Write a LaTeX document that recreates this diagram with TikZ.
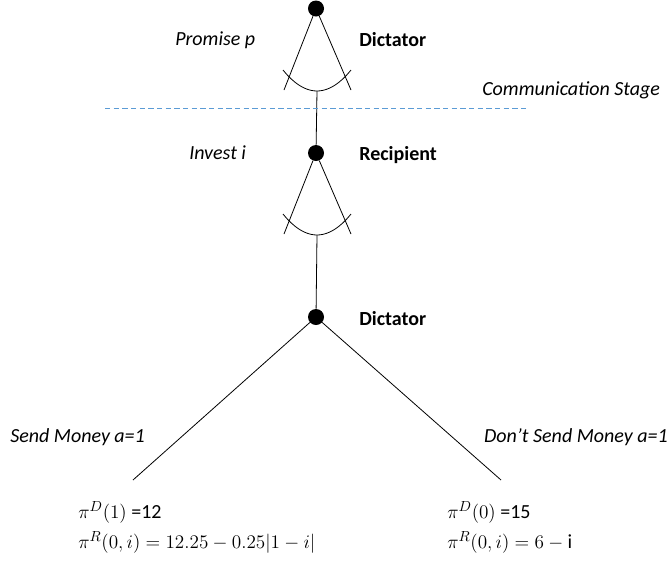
\documentclass[tikz,border=0pt]{standalone}
\usepackage{amsmath, amssymb}
\usepackage{fontspec}
\setmainfont{Carlito}
\usetikzlibrary{positioning, calc}
\definecolor{mDashBlue}{HTML}{5B9BD5}

\begin{document}
\begin{tikzpicture}[x=0.75pt, y=-0.75pt,
    dot/.style={circle, fill=black, inner sep=0pt, minimum size=12pt},
    lbl/.style={inner sep=0pt, font=\fontsize{15}{18}\selectfont},
    branch/.style={line width=0.6pt}]
    \useasboundingbox (0,0) rectangle (671,565);
    % decision nodes
    \node[dot] (dTop) at (316,8.5) {};
    \node[dot] (rec) at (316,153) {};
    \node[dot] (dBot) at (316,317) {};
    % continuum of actions
    \foreach \n/\y in {dTop/70, rec/214} {
      \coordinate (\n L) at (284,\y+20);
      \coordinate (\n R) at (351,\y+20);
      \coordinate (\n M) at (317,\y+21);
      \draw[branch] (\n) -- (\n L);
      \draw[branch] (\n) -- (\n R);
      \draw[branch] (283,\y) parabola bend (\n M) (351,\y);
    }
    \draw[branch] (dTopM) -- (rec);
    \draw[branch] (recM) -- (dBot);
    \coordinate (sendEnd) at (133,480);
    \coordinate (keepEnd) at (501,480);
    \draw[branch] (dBot) -- (sendEnd);
    \draw[branch] (dBot) -- (keepEnd);
    % communication stage
    \coordinate (dashL) at (105,108);
    \coordinate (dashR) at (527,108);
    \draw[mDashBlue, line width=0.6pt, dash pattern=on 4pt off 2.5pt] (dashL) -- (dashR);
    % labels
    \node[lbl, anchor=west] (promise) at (175,40) {\itshape Promise p};
    \node[lbl, anchor=west] (who1) at (359,40) {\bfseries Dictator};
    \node[lbl, anchor=west] (stage) at (482,90) {\itshape Communication Stage};
    \node[lbl, anchor=west] (invest) at (189,153) {\itshape Invest i};
    \node[lbl, anchor=west] (who2) at (359,155) {\bfseries Recipient};
    \node[lbl, anchor=west] (who3) at (359,319) {\bfseries Dictator};
    \node[lbl, anchor=west] (send) at (10,437) {\itshape Send Money a=1};
    \node[lbl, anchor=east] (keep) at (668,437) {\itshape Don’t Send Money a=1};
    % payoffs
    \node[lbl, anchor=west] (payD1) at (78,512) {$\pi^{D}(1)$ =12};
    \node[lbl, anchor=west] (payR1) at (78,542) {$\pi^{R}(0,i) = 12.25 - 0.25|1 - i|$};
    \node[lbl, anchor=west] (payD0) at (447,512) {$\pi^{D}(0)$ =15};
    \node[lbl, anchor=west] (payR0) at (447,542) {$\pi^{R}(0,i) = 6 - \mathrm{i}$};
  \end{tikzpicture}
\end{document}
